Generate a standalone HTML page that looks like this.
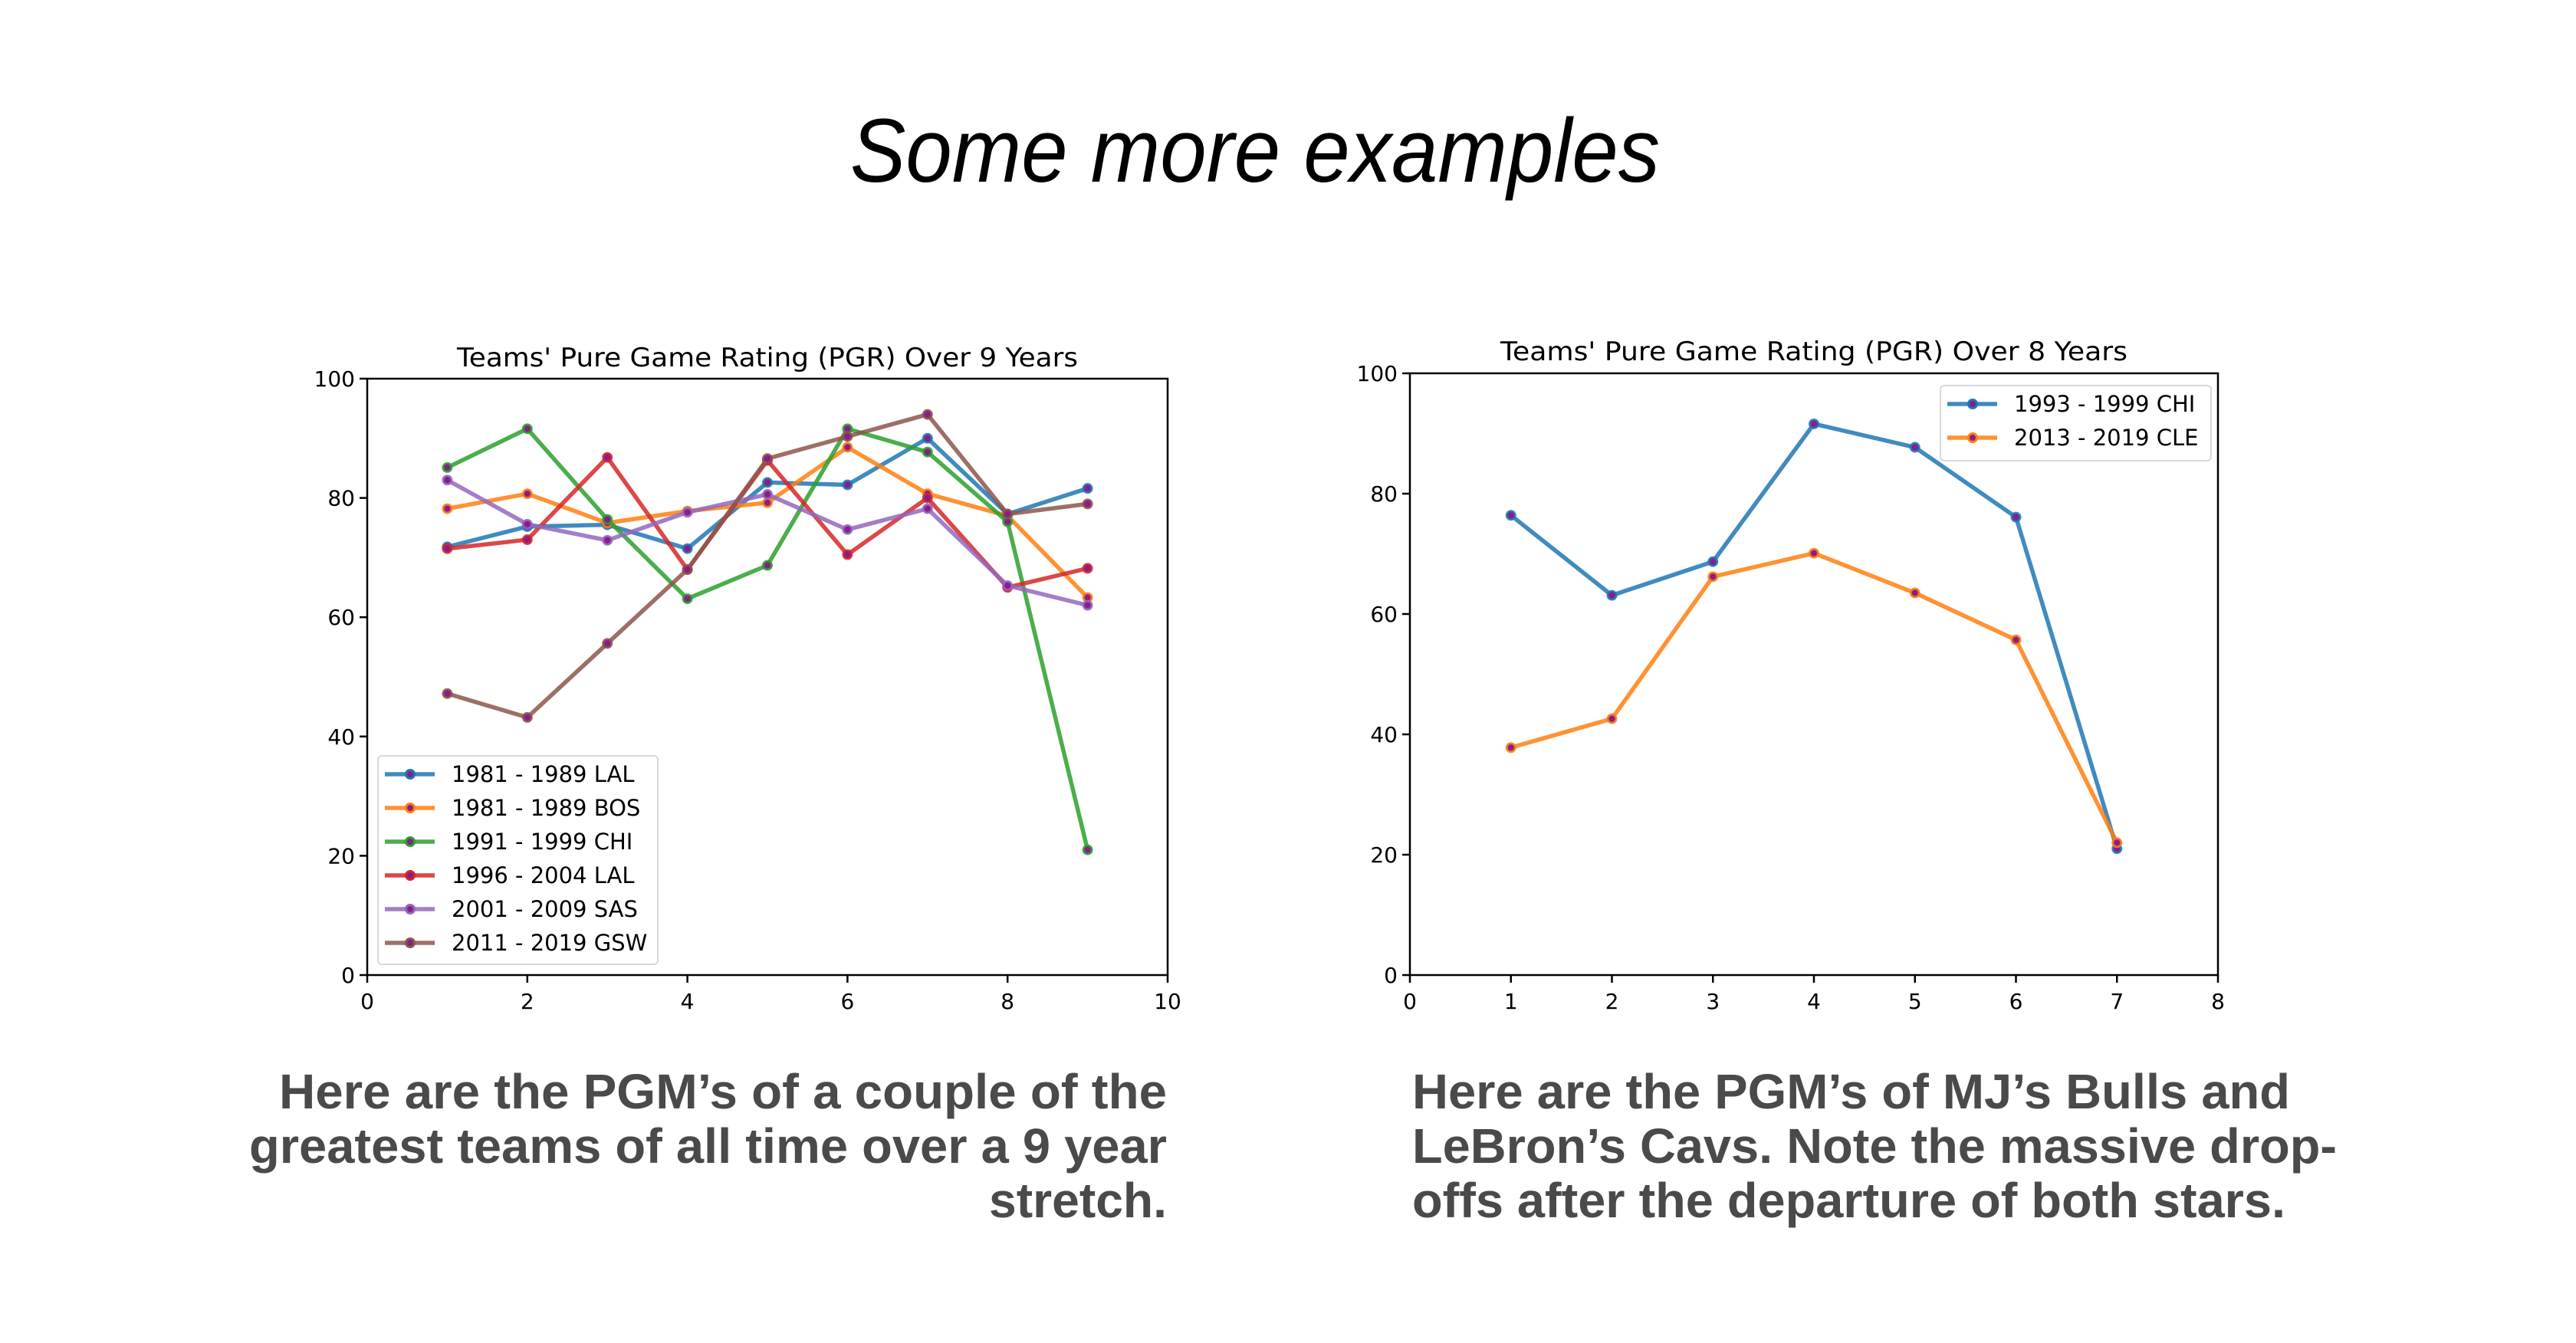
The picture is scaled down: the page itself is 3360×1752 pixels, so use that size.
<!DOCTYPE html>
<html><head><meta charset="utf-8"><style>
html,body{margin:0;padding:0;background:#fff;}
svg{display:block;}
text{font-family:"DejaVu Sans","Liberation Sans",sans-serif;}
.cap{font-family:"Liberation Sans",sans-serif;font-weight:bold;fill:#4a4a4a;font-size:64px;}
</style></head><body>
<svg id="page" width="3360" height="1752" viewBox="0 0 3360 1752" xmlns="http://www.w3.org/2000/svg">
<text x="1637" y="237" text-anchor="middle" font-size="118" font-style="italic" textLength="1056" lengthAdjust="spacingAndGlyphs" style="font-family:'Liberation Sans',sans-serif;font-weight:300">Some more examples</text>
<g id="chartL"></g>
<g id="chartR"></g>
<g>
<text class="cap" x="1522" y="1446" text-anchor="end" textLength="1158" lengthAdjust="spacingAndGlyphs">Here are the PGM’s of a couple of the</text>
<text class="cap" x="1522" y="1517" text-anchor="end" textLength="1197" lengthAdjust="spacingAndGlyphs">greatest teams of all time over a 9 year</text>
<text class="cap" x="1522" y="1588" text-anchor="end" textLength="232" lengthAdjust="spacingAndGlyphs">stretch.</text>
</g>
<g>
<text class="cap" x="1842" y="1446" textLength="1145" lengthAdjust="spacingAndGlyphs">Here are the PGM’s of MJ’s Bulls and</text>
<text class="cap" x="1842" y="1517" textLength="1206" lengthAdjust="spacingAndGlyphs">LeBron’s Cavs. Note the massive drop-</text>
<text class="cap" x="1842" y="1588" textLength="1139" lengthAdjust="spacingAndGlyphs">offs after the departure of both stars.</text>
</g>
</svg>
<script>
const leftLabels = ["1981 - 1989 LAL","1981 - 1989 BOS","1991 - 1999 CHI","1996 - 2004 LAL","2001 - 2009 SAS","2011 - 2019 GSW"];
const leftLAL81 = [71.8,75.2,75.5,71.5,82.6,82.2,90,77.3,81.6];
const leftBOS = [78.2,80.7,75.8,77.8,79.2,88.5,80.7,77,63.3];
const leftCHI91 = [85.1,91.6,76.4,63.1,68.7,91.6,87.7,76,21];
const leftLAL96 = [71.5,73,86.8,68,86.3,70.5,80,65,68.2];
const leftSAS = [83,75.6,72.9,77.6,80.6,74.7,78.2,65.3,62];
const leftGSW = [47.2,43.2,55.6,68,86.6,90.3,94,77.3,79];
const leftXTicks = [0,2,4,6,8,10];
const rightLabels = ["1993 - 1999 CHI","2013 - 2019 CLE"];
const rightCHI = [76.4,63.1,68.7,91.6,87.7,76.1,21];
const rightCLE = [37.8,42.6,66.2,70.1,63.5,55.7,22];
const rightXTicks = [0,1,2,3,4,5,6,7,8];
const yTicks = [0,20,40,60,80,100];
const colors = ["#1f77b4","#ff7f0e","#2ca02c","#d62728","#9467bd","#8c564b"];
const NS = "http://www.w3.org/2000/svg";
function mk(parent, tag, attrs){const e=document.createElementNS(NS,tag);for(const k in attrs)e.setAttribute(k,attrs[k]);parent.appendChild(e);return e;}

function drawChart(g, box, xmax, xticks, series, labels, title, titleY, titleLen, legend){
  const sx = v => box.x0 + (v/xmax)*(box.x1-box.x0);
  const sy = v => box.y1 - (v/100)*(box.y1-box.y0);
  const t = mk(g,"text",{x:(box.x0+box.x1)/2,y:titleY,"text-anchor":"middle","font-size":"34",textLength:titleLen,lengthAdjust:"spacingAndGlyphs"});
  t.textContent = title;
  
  
  xticks.forEach(v=>{
    mk(g,"line",{x1:sx(v),x2:sx(v),y1:box.y1,y2:box.y1+10,stroke:"#000","stroke-width":2.5});
    const l = mk(g,"text",{x:sx(v),y:box.y1+44,"text-anchor":"middle","font-size":"28"});
    l.textContent = v;
    
    
  });
  yTicks.forEach(v=>{
    mk(g,"line",{x1:box.x0-10,x2:box.x0,y1:sy(v),y2:sy(v),stroke:"#000","stroke-width":2.5});
    const l = mk(g,"text",{x:box.x0-16,y:sy(v)+10,"text-anchor":"end","font-size":"28"});
    l.textContent = v;
    
    
  });
  series.forEach((s,i)=>{
    const pts = s.map((v,j)=>sx(j+1)+","+sy(v)).join(" ");
    const pl = mk(g,"polyline",{points:pts,fill:"none",stroke:colors[i],"stroke-width":5.5,"stroke-opacity":0.85,"stroke-linejoin":"round"});
    
    
    s.forEach((v,j)=>{
      const c = mk(g,"circle",{cx:sx(j+1),cy:sy(v),r:5.5,fill:"#8a1c8c",stroke:colors[i],"stroke-width":3,"stroke-opacity":0.85});
      
      
    });
  });
  const frame = mk(g,"rect",{x:box.x0,y:box.y0,width:box.x1-box.x0,height:box.y1-box.y0,fill:"none",stroke:"#000","stroke-width":2.5});
  
  
  const lg = mk(g,"g",{});
  
  
  mk(lg,"rect",{x:legend.x,y:legend.y,width:legend.w,height:legend.h,rx:5,fill:"#fff","fill-opacity":0.8,stroke:"#d8d8d8","stroke-width":2});
  labels.forEach((lab,i)=>{
    const cy = legend.y+24+i*44;
    mk(lg,"line",{x1:legend.x+9,x2:legend.x+74,y1:cy,y2:cy,stroke:colors[i],"stroke-width":5.5,"stroke-opacity":0.85});
    mk(lg,"circle",{cx:legend.x+42,cy:cy,r:5.5,fill:"#8a1c8c",stroke:colors[i],"stroke-width":3});
    const tx = mk(lg,"text",{x:legend.x+96,y:cy+10,"font-size":"29"});
    tx.textContent = lab;
    
    
  });
}
drawChart(document.getElementById("chartL"),{x0:479,x1:1523,y0:494,y1:1272},10,leftXTicks,
  [leftLAL81,leftBOS,leftCHI91,leftLAL96,leftSAS,leftGSW],leftLabels,
  "Teams' Pure Game Rating (PGR) Over 9 Years",478,810,{x:493,y:986,w:365,h:272});
drawChart(document.getElementById("chartR"),{x0:1839,x1:2893,y0:487,y1:1272},8,rightXTicks,
  [rightCHI,rightCLE],rightLabels,
  "Teams' Pure Game Rating (PGR) Over 8 Years",470,818,{x:2531,y:503,w:353,h:98});
</script>
</body></html>
